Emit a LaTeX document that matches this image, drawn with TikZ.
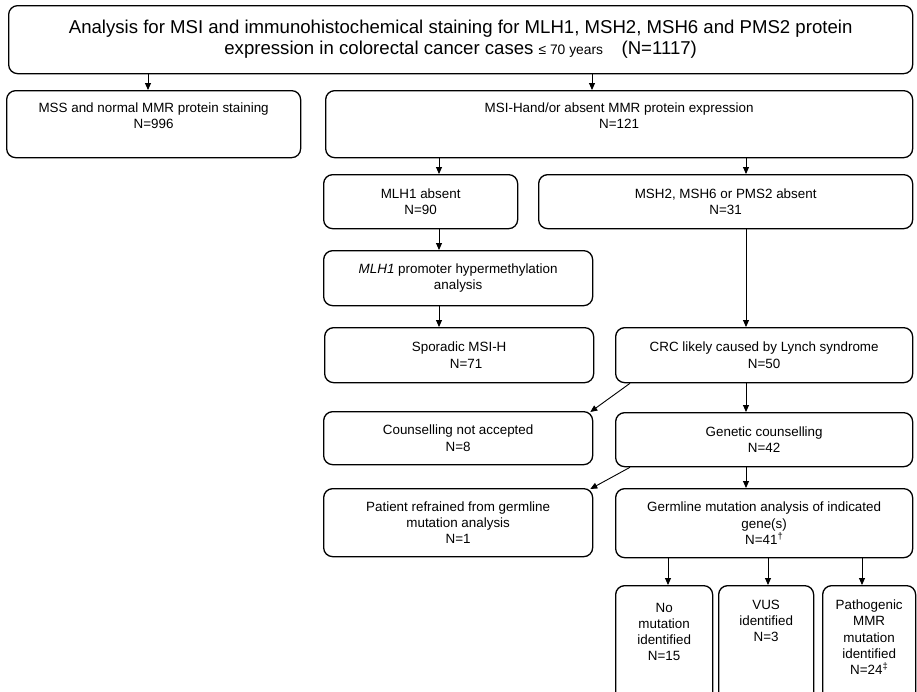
\documentclass[tikz,border=0pt]{standalone}
\usepackage{fontspec}
\setmainfont{Liberation Sans}
\usetikzlibrary{arrows.meta,positioning}

\begin{document}
\begin{tikzpicture}[
  x=1pt, y=-1pt,
  box/.style={rectangle, draw, line width=1.3pt, rounded corners=9pt, anchor=north west,
    align=center, inner sep=2pt, font=\fontsize{13.4}{16.3}\selectfont},
  toptext/.style={anchor=north, align=center, yshift=-9pt, font=\fontsize{13.4}{16.3}\selectfont},
  >={Triangle[width=6pt,length=7pt]},
  line width=0.9pt
]
\useasboundingbox (0,0) rectangle (917,691);

% first level
\node[box, minimum width=904, minimum height=68, font=\fontsize{18.6}{21}\selectfont] (cases) at (8,5)
  {Analysis for MSI and immunohistochemical staining for MLH1, MSH2, MSH6 and PMS2 protein\\
   expression in colorectal cancer cases {\fontsize{13.8}{16}\selectfont ≤ 70 years}\quad(N=1117)};
\node[box, minimum width=294, minimum height=67, label={[toptext]north:MSS and normal MMR protein staining\\N=996}] (mss) at (6,90) {};
\node[box, minimum width=587, minimum height=67, label={[toptext]north:MSI-Hand/or absent MMR protein expression\\N=121}] (msih) at (325,90) {};

% MMR protein absent
\node[box, minimum width=194, minimum height=54] (mlh1) at (323,174) {MLH1 absent\\N=90};
\node[box, minimum width=374, minimum height=54] (msh) at (538,174) {MSH2, MSH6 or PMS2 absent\\N=31};
\node[box, minimum width=269, minimum height=55] (promoter) at (323,250) {\textit{MLH1} promoter hypermethylation\\analysis};
\node[box, minimum width=269, minimum height=55] (sporadic) at (324,327) {Sporadic MSI-H\\\hspace*{14pt}N=71};
\node[box, minimum width=297, minimum height=55] (lynch) at (615,327) {CRC likely caused by Lynch syndrome\\N=50};

% counselling
\node[box, minimum width=269, minimum height=53] (refused) at (323,411) {Counselling not accepted\\N=8};
\node[box, minimum width=297, minimum height=54] (counsel) at (615,412) {Genetic counselling\\N=42};
\node[box, minimum width=269, minimum height=68] (refrained) at (323,488) {Patient refrained from germline\\mutation analysis\\N=1};
\node[box, minimum width=297, minimum height=69] (germline) at (615,488) {Germline mutation analysis of indicated\\gene(s)\\N=41\textsuperscript{†}};

% results
\node[box, minimum width=97, minimum height=120, label={[toptext,yshift=-5pt]north:No\\mutation\\identified\\N=15}] (nomut) at (615,585) {};
\node[box, minimum width=95, minimum height=120, label={[toptext,yshift=-2pt]north:VUS\\identified\\N=3}] (vus) at (718,585) {};
\node[box, minimum width=93, minimum height=120, label={[toptext,yshift=-2pt]north:Pathogenic\\MMR\\mutation\\identified\\N=24\textsuperscript{‡}}] (patho) at (822,585) {};

\draw[->] (cases.south -| 148,0) -- (mss.north -| 148,0);
\draw[->] (cases.south -| 592,0) -- (msih.north -| 592,0);
\draw[->] (msih.south -| 439,0) -- (mlh1.north -| 439,0);
\draw[->] (msih.south -| 746,0) -- (msh.north -| 746,0);
\draw[->] (mlh1.south -| 439,0) -- (promoter.north -| 439,0);
\draw[->] (promoter.south -| 439,0) -- (sporadic.north -| 439,0);
\draw[->] (msh.south -| 746,0) -- (lynch.north -| 746,0);
\draw[->] (lynch.south -| 746,0) -- (counsel.north -| 746,0);
\draw[->] ([xshift=15pt]lynch.south west) -- ([xshift=-3pt,yshift=-1pt]refused.north east);
\draw[->] (counsel.south -| 746,0) -- (germline.north -| 746,0);
\draw[->] ([xshift=15pt]counsel.south west) -- ([xshift=-3pt,yshift=-1pt]refrained.north east);
\draw[->] (germline.south -| 668,0) -- (nomut.north -| 668,0);
\draw[->] (germline.south -| 768,0) -- (vus.north -| 768,0);
\draw[->] (germline.south -| 862,0) -- (patho.north -| 862,0);
\end{tikzpicture}
\end{document}
